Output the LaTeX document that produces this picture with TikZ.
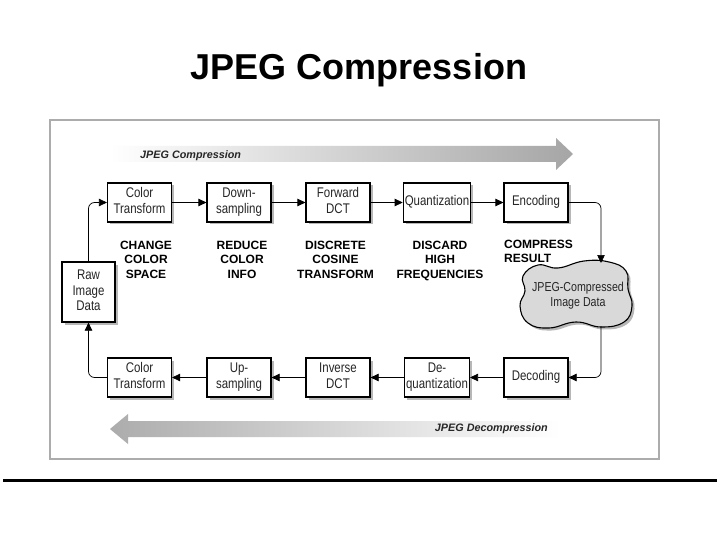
\documentclass[tikz,border=0pt]{standalone}
\usepackage{fontspec}
\setmainfont{Liberation Sans}
\newfontfamily\narrowfont[FakeStretch=0.82]{Liberation Sans}
\usetikzlibrary{arrows.meta,shadows,calc}
\begin{document}
\begin{tikzpicture}[x=1pt,y=-1pt,
  stagebox/.style={draw=black, line width=1.2pt, fill=white, minimum width=64pt, minimum height=39pt,
    inner sep=1.5pt, align=center, font=\narrowfont\fontsize{14}{15.5}\selectfont, text=black!85,
    drop shadow={shadow xshift=2.5pt, shadow yshift=-2.5pt, fill=gray!80, opacity=0.7}},
  conn/.style={draw=black, line width=0.7pt, -{Triangle[length=8pt,width=7.5pt]}, rounded corners=6pt},
  lab/.style={font=\bfseries\fontsize{12}{14.5}\selectfont, align=center, inner sep=0pt},
  arrowtext/.style={font=\bfseries\itshape\fontsize{10.8}{12}\selectfont, text=black!85, inner sep=0pt}
]
\useasboundingbox (0,0) rectangle (720,540);
\fill[white] (0,0) rectangle (720,540);

% title
\node[font=\bfseries\fontsize{36}{40}\selectfont] (title) at (359,70) {JPEG Compression};

% frame
\draw[gray!65, line width=1.5pt] (50,120) rectangle (659,459);

% page rule
\draw[black, line width=3pt] (3,480) -- (717,480);

% gradient arrows
\shade[left color=white, right color=gray!70]
  (110,146) -- (556,146) -- (556,138) -- (573,154) -- (556,170) -- (556,162) -- (110,162) -- cycle;
\node[arrowtext, anchor=west] (ctext) at (140,156) {JPEG Compression};
\shade[left color=gray!65, right color=white]
  (560,421) -- (128,421) -- (128,414) -- (110,429) -- (128,444) -- (128,437) -- (560,437) -- cycle;
\node[arrowtext, anchor=east] (dtext) at (548,429) {JPEG Decompression};

% top row
\node[stagebox] (ct1) at (139.5,202.5) {Color\strut\\Transform\strut};
\node[stagebox] (ds)  at (239,202.5) {Down-\strut\\sampling\strut};
\node[stagebox] (fd)  at (338,202.5) {Forward\strut\\DCT\strut};
\node[stagebox] (qu)  at (437,202.5) {Quantization\strut};
\node[stagebox] (enc) at (536,202.5) {Encoding\strut};

% bottom row
\node[stagebox] (ct2) at (139.5,377.5) {Color\strut\\Transform\strut};
\node[stagebox] (us)  at (239,377.5) {Up-\strut\\sampling\strut};
\node[stagebox] (id)  at (338,377.5) {Inverse\strut\\DCT\strut};
\node[stagebox] (dq)  at (437,377.5) {De-\strut\\quantization\strut};
\node[stagebox] (dec) at (536,377.5) {Decoding\strut};

% raw image data
\node[stagebox, minimum width=53pt, minimum height=60pt] (raw) at (88.5,292) {Raw\strut\\Image\strut\\Data\strut};

% cloud (blob)
\def\blob{plot[smooth cycle, tension=0.75] coordinates {(523,276) (538,265) (558,268) (584,261) (609,262) (626,271) (628,289) (632,306) (624,322) (601,327) (576,322) (549,328) (528,323) (520,306) (525,291)}}
\fill[gray!80, opacity=0.7, shift={(2.5,2.5)}] \blob;
\filldraw[fill=gray!30, draw=black, line width=1.1pt] \blob;
\node[align=center, font=\narrowfont\fontsize{13}{15}\selectfont, text=black!85, inner sep=0pt] (cloud) at (578,296) {JPEG-Compressed\\Image Data};
\coordinate (cloudin) at (601,263);
\coordinate (cloudout) at (601,326);

% labels
\node[lab] (l1) at (146,261) {CHANGE\strut\\COLOR\strut\\SPACE\strut};
\node[lab] (l2) at (242,261) {REDUCE\strut\\COLOR\strut\\INFO\strut};
\node[lab] (l3) at (335.5,261) {DISCRETE\strut\\COSINE\strut\\TRANSFORM\strut};
\node[lab] (l4) at (440,261) {DISCARD\strut\\HIGH\strut\\FREQUENCIES\strut};
\node[lab, anchor=north west, align=left] (l5) at (504,238) {COMPRESS\strut\\RESULT\strut};

% connectors
\draw[conn] (ct1.east) -- (ds.west);
\draw[conn] (ds.east) -- (fd.west);
\draw[conn] (fd.east) -- (qu.west);
\draw[conn] (qu.east) -- (enc.west);
\draw[conn] (enc.east) -| (cloudin);
\draw[conn] (cloudout) |- (dec.east);
\draw[conn] (dec.west) -- (dq.east);
\draw[conn] (dq.west) -- (id.east);
\draw[conn] (id.west) -- (us.east);
\draw[conn] (us.west) -- (ct2.east);
\draw[conn] (ct2.west) -| (raw.south);
\draw[conn] (raw.north) |- (ct1.west);
\end{tikzpicture}
\end{document}
